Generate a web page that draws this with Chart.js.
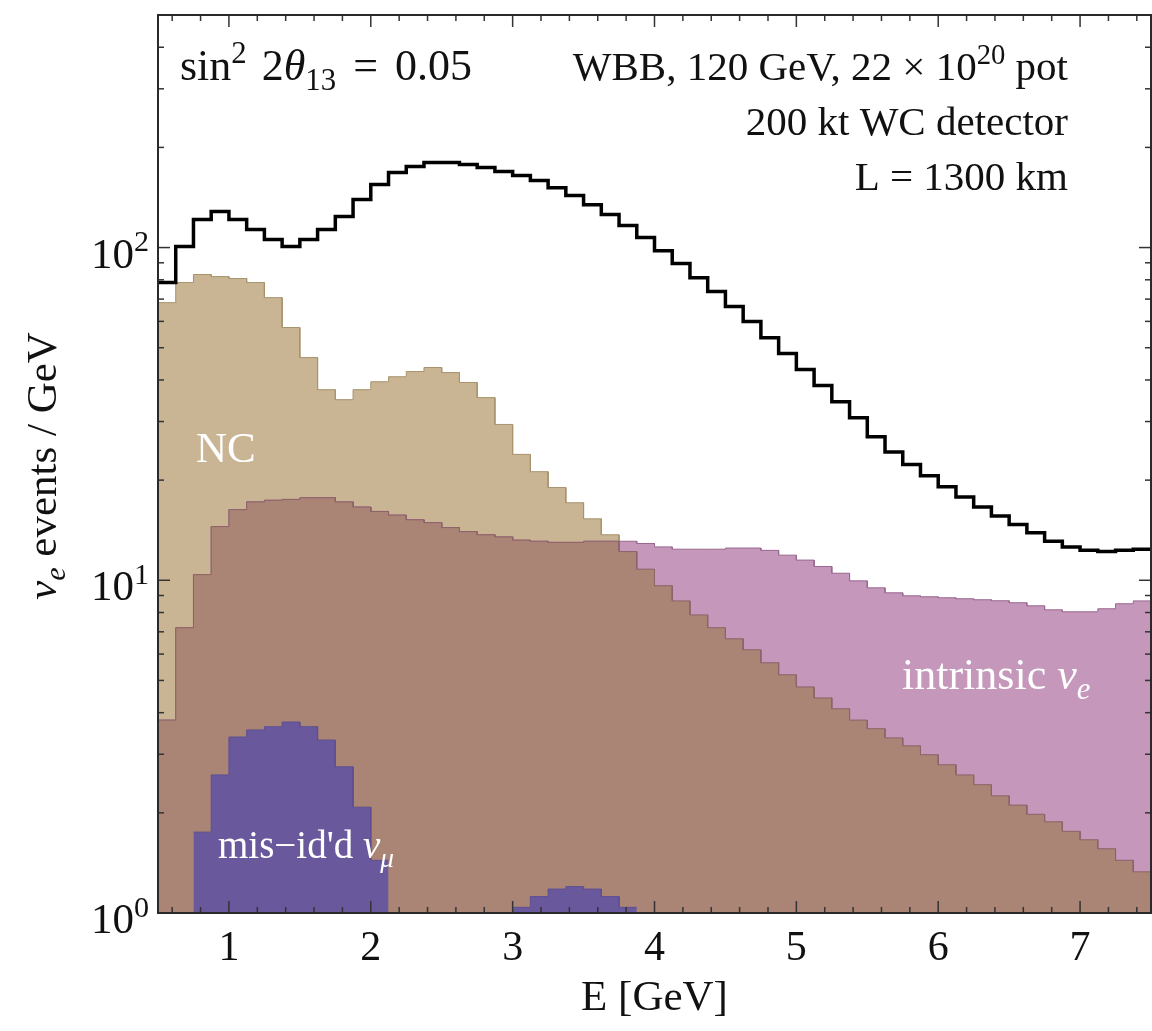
<!DOCTYPE html>
<html><head><meta charset="utf-8">
<script src="https://cdn.jsdelivr.net/npm/chart.js@4.4.1/dist/chart.umd.min.js"></script>
<style>html,body{margin:0;padding:0;background:#fff;overflow:hidden}#wrap{width:1152px;height:1031px;position:relative}</style>
</head><body><div id="wrap"><canvas id="c" width="1152" height="1031"></canvas></div>
<script>
// ---- data (GeV bin edges, events / GeV) ----
const binEdges = [0.5,0.625,0.75,0.875,1.0,1.125,1.25,1.375,1.5,1.625,1.75,1.875,2.0,2.125,2.25,2.375,2.5,2.625,2.75,2.875,3.0,3.125,3.25,3.375,3.5,3.625,3.75,3.875,4.0,4.125,4.25,4.375,4.5,4.625,4.75,4.875,5.0,5.125,5.25,5.375,5.5,5.625,5.75,5.875,6.0,6.125,6.25,6.375,6.5,6.625,6.75,6.875,7.0,7.125,7.25,7.375,7.5];
const totalEvents = [78.5,100.7,121.4,128.3,121.4,113.3,105.7,100.7,105.7,113.3,124.0,139.4,154.6,168.2,175.2,180.2,180.2,177.7,174.0,169.3,164.7,159.0,151.4,143.3,134.6,125.7,116.4,107.2,97.9,89.5,81.2,73.8,66.5,59.9,53.6,48.0,43.0,38.5,34.4,30.8,27.0,24.3,22.3,20.6,19.1,17.8,16.6,15.6,14.7,13.9,13.1,12.6,12.3,12.2,12.3,12.4];
const ncBackground = [68.3,78.5,83.0,81.8,80.7,78.5,70.7,57.5,46.7,37.4,34.9,37.4,39.5,40.9,42.4,43.6,42.1,39.3,35.4,29.4,23.9,21.2,19.0,17.1,15.3,13.7,12.2,10.8,9.63,8.67,7.87,7.20,6.67,6.18,5.65,5.20,4.78,4.43,4.11,3.80,3.58,3.36,3.18,2.99,2.79,2.60,2.43,2.25,2.11,1.98,1.88,1.76,1.66,1.56,1.44,1.33];
const intrinsicNuE = [3.80,7.20,10.4,14.5,16.3,17.2,17.4,17.5,17.7,17.7,17.2,16.6,16.1,15.7,15.2,14.9,14.4,14.0,13.7,13.5,13.2,13.1,13.0,13.0,13.1,13.1,13.1,12.9,12.6,12.4,12.4,12.4,12.5,12.5,12.3,11.9,11.5,11.0,10.5,9.96,9.49,9.17,8.98,8.92,8.86,8.80,8.74,8.68,8.56,8.38,8.15,8.04,8.04,8.21,8.50,8.67];
const misIdNuMu = [null,null,1.75,2.60,3.38,3.55,3.63,3.75,3.63,3.31,2.75,2.08,1.44,null,null,null,null,null,null,null,1.04,1.12,1.18,1.20,1.18,1.12,1.04,null,null,null,null,null,null,null,null,null,null,null,null,null,null,null,null,null,null,null,null,null,null,null,null,null,null,null,null,null];
const xMajorTicks = [1,2,3,4,5,6,7];
const xTickLabels = ['1','2','3','4','5','6','7'];
const xMinorTicks = [0.6,0.8,1.2,1.4,1.6,1.8,2.2,2.4,2.6,2.8,3.2,3.4,3.6,3.8,4.2,4.4,4.6,4.8,5.2,5.4,5.6,5.8,6.2,6.4,6.6,6.8,7.2,7.4];
const yMajorTicks = [1,10,100];
const yTickExponents = ['0','1','2'];
const yMinorTicks = [2,3,4,5,6,7,8,9,20,30,40,50,60,70,80,90,200,300,400];

function histPoints(vals){
  const pts=[];
  vals.forEach((v,i)=>{ pts.push({x:binEdges[i],y:v}); pts.push({x:binEdges[i+1],y:v}); });
  return pts;
}
const overlapNcIe = ncBackground.map((v,i)=>Math.min(v,intrinsicNuE[i]));

const FONT = '"Liberation Serif","DejaVu Serif",serif';
function drawRich(ctx, segs, x, y, size, align, color){
  let total=0;
  const items = segs.map(s=>{
    const sz = (s.sup||s.sub) ? size*0.7 : size;
    const font = (s.it?'italic ':'') + sz + 'px ' + FONT;
    ctx.font = font;
    const w = ctx.measureText(s.t).width + (s.gap||0);
    total += w;
    return {s,font,w};
  });
  let cx = align==='right' ? x-total : align==='center' ? x-total/2 : x;
  ctx.fillStyle = color; ctx.textBaseline='alphabetic'; ctx.textAlign='left';
  items.forEach(it=>{
    ctx.font = it.font;
    const dy = it.s.sup ? -size*0.38 : it.s.sub ? size*0.22 : 0;
    ctx.fillText(it.s.t, cx, y+dy);
    cx += it.w;
  });
}

const framePlugin = {
  id:'frame',
  afterDraw(chart){
    const {ctx, chartArea:a, scales:{x,y}} = chart;
    ctx.save();
    const seg=(x1,y1,x2,y2)=>{ctx.beginPath();ctx.moveTo(x1,y1);ctx.lineTo(x2,y2);ctx.stroke();};
    ctx.strokeStyle='#333'; ctx.lineWidth=1.5;
    xMajorTicks.forEach(v=>{const p=x.getPixelForValue(v); seg(p,a.bottom,p,a.bottom-12); seg(p,a.top,p,a.top+12);});
    xMinorTicks.forEach(v=>{const p=x.getPixelForValue(v); seg(p,a.bottom,p,a.bottom-6); seg(p,a.top,p,a.top+6);});
    yMajorTicks.forEach(v=>{const p=y.getPixelForValue(v); seg(a.left,p,a.left+12,p); seg(a.right,p,a.right-12,p);});
    yMinorTicks.forEach(v=>{const p=y.getPixelForValue(v); seg(a.left,p,a.left+6,p); seg(a.right,p,a.right-6,p);});
    ctx.lineWidth=2; ctx.strokeStyle='#2a2a2a';
    ctx.strokeRect(a.left,a.top,a.right-a.left,a.bottom-a.top);
    // y tick labels
    yMajorTicks.forEach((v,i)=>{
      const p=y.getPixelForValue(v);
      drawRich(ctx,[{t:'10'},{t:yTickExponents[i],sup:true}],149,p+20,43,'right','#111');
    });
    // y axis title
    ctx.save();
    ctx.translate(56,466); ctx.rotate(-Math.PI/2);
    drawRich(ctx,[{t:'\u03BD',it:true},{t:'e',it:true,sub:true},{t:' events / GeV'}],0,0,43,'center','#111');
    ctx.restore();
    // annotations
    drawRich(ctx,[{t:'sin'},{t:'2',sup:true,gap:4},{t:' 2'},{t:'\u03B8',it:true},{t:'13',sub:true,gap:6},{t:' = ',gap:6},{t:'0.05'}],180,80,44,'left','#111');
    drawRich(ctx,[{t:'WBB, 120 GeV, 22 \u00D7 10'},{t:'20',sup:true},{t:' pot'}],1068,80,41,'right','#111');
    drawRich(ctx,[{t:'200 kt WC detector'}],1068,135,41,'right','#111');
    drawRich(ctx,[{t:'L = 1300 km'}],1068,190,41,'right','#111');
    // region labels
    drawRich(ctx,[{t:'NC'}],196,462,43,'left','#fff');
    drawRich(ctx,[{t:'intrinsic '},{t:'\u03BD',it:true},{t:'e',it:true,sub:true}],902,689,44,'left','#fff');
    drawRich(ctx,[{t:"mis\u2212id'd "},{t:'\u03BD',it:true},{t:'\u03BC',it:true,sub:true}],218,858,39,'left','#fff');
    ctx.restore();
  }
};

new Chart(document.getElementById('c').getContext('2d'),{
  type:'line',
  data:{datasets:[
    {label:'total', data:histPoints(totalEvents), borderColor:'#000', borderWidth:3.5, fill:false, order:1},
    {label:"mis-id'd nu_mu", data:histPoints(misIdNuMu), borderColor:'#5e4f92', borderWidth:1, backgroundColor:'#69599c', fill:'start', order:2},
    {label:'NC and intrinsic overlap', data:histPoints(overlapNcIe), borderColor:'#8e6268', borderWidth:1, backgroundColor:'#aa8474', fill:'start', order:3},
    {label:'intrinsic nu_e', data:histPoints(intrinsicNuE), borderColor:'#9a6890', borderWidth:1, backgroundColor:'#c497bb', fill:'start', order:4},
    {label:'NC', data:histPoints(ncBackground), borderColor:'#a8936e', borderWidth:1, backgroundColor:'#c9b593', fill:'start', order:5}
  ]},
  options:{
    responsive:false, animation:false, devicePixelRatio:1,
    layout:{padding:{top:15,right:1,left:0,bottom:0}},
    elements:{point:{radius:0}, line:{tension:0}},
    plugins:{legend:{display:false}, tooltip:{enabled:false}},
    scales:{
      x:{type:'linear', min:0.5, max:7.5,
        afterBuildTicks:s=>{s.ticks = xMajorTicks.map(v=>({value:v}));},
        ticks:{font:{family:FONT,size:42}, color:'#111', padding:3, maxRotation:0,
          callback:(v,i)=>xTickLabels[i]},
        grid:{display:false}, border:{display:false},
        title:{display:true, text:'E [GeV]', font:{family:FONT,size:43}, color:'#111', padding:{top:0,bottom:6}},
        afterFit:s=>{s.height=118;}},
      y:{type:'logarithmic', min:1, max:500,
        ticks:{display:false}, grid:{display:false}, border:{display:false},
        afterFit:s=>{s.width=158;}}
    }
  },
  plugins:[framePlugin]
});
</script></body></html>
